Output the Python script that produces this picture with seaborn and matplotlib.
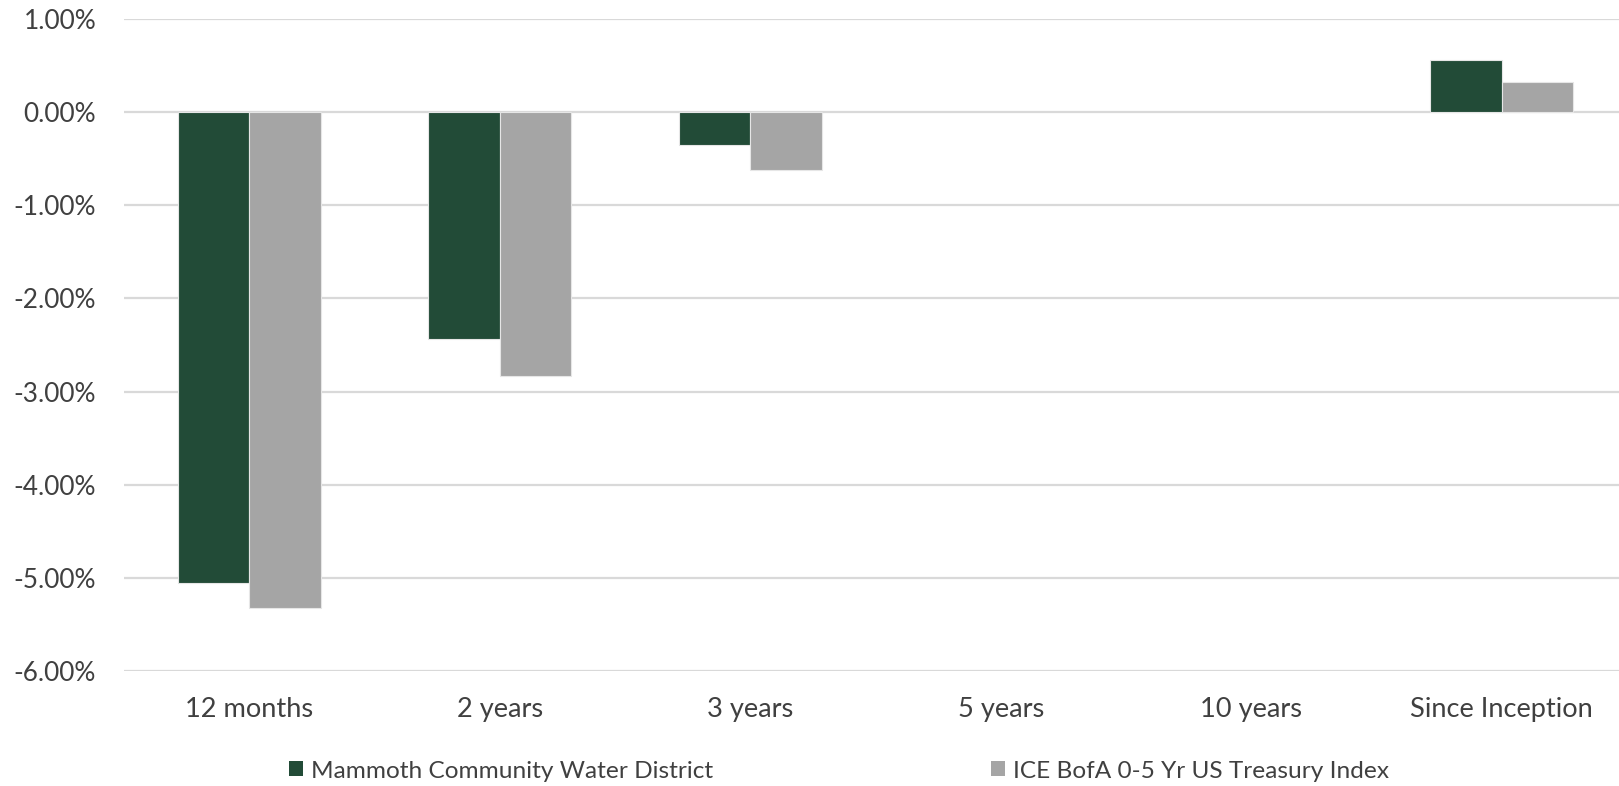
import numpy as np
import pandas as pd
import matplotlib
matplotlib.use("Agg")
import matplotlib.pyplot as plt
from matplotlib.patches import Patch
from matplotlib.ticker import FuncFormatter, MultipleLocator
import seaborn as sns

# Annualized returns (%) by period
periods = ["12 months", "2 years", "3 years", "5 years", "10 years", "Since Inception"]
district_returns = [-5.06, -2.44, -0.35, np.nan, np.nan, 0.56]
index_returns = [-5.33, -2.83, -0.62, np.nan, np.nan, 0.33]
series_names = ["Mammoth Community Water District", "ICE BofA 0-5 Yr US Treasury Index"]
series_colors = ["#224B37", "#A5A5A5"]

df = pd.DataFrame({
    "period": periods * 2,
    "return": district_returns + index_returns,
    "series": [series_names[0]] * len(periods) + [series_names[1]] * len(periods),
})

sns.set_theme(style="white")
plt.rcParams["font.family"] = ["Lato", "DejaVu Sans"]
text_color = "#404040"

W, H = 1619, 786
fig = plt.figure(figsize=(W / 100, H / 100), dpi=100)
ax = fig.add_axes([124 / W, 1 - 670.7 / H, (1627 - 124) / W, (670.7 - 19.3) / H])

sns.barplot(
    data=df, x="period", y="return", hue="series", order=periods,
    hue_order=series_names, palette=series_colors, width=0.572,
    saturation=1, edgecolor="#e6e6e6", linewidth=0.8, ax=ax, legend=False,
)

ax.set_ylim(-6, 1)
ax.set_xlim(-0.5, len(periods) - 0.5)
ax.yaxis.set_major_locator(MultipleLocator(1))
ax.yaxis.set_major_formatter(FuncFormatter(lambda v, _: f"{v:.2f}%"))
ax.grid(axis="y", color="#d9d9d9", linewidth=1.6, zorder=0)
ax.set_axisbelow(True)
for s in ax.spines.values():
    s.set_visible(False)
ax.set_xlabel("")
ax.set_ylabel("")
ax.tick_params(axis="y", length=0, pad=20, labelsize=18.9, labelcolor=text_color)
ax.tick_params(axis="x", length=0, pad=19, labelsize=19.6, labelcolor=text_color)

# Legend entries placed along the bottom
legend_x = [289 / W, 990.7 / W]
fs = 17.6
for name, color, lx in zip(series_names, series_colors, legend_x):
    leg = fig.legend(
        handles=[Patch(facecolor=color, edgecolor="none", label=name)],
        loc="center left", bbox_to_anchor=(lx, 1 - 771 / H), frameon=False,
        fontsize=fs, borderpad=0, borderaxespad=0, handlelength=0.58,
        handleheight=0.58, handletextpad=0.33,
    )
    for t in leg.get_texts():
        t.set_color(text_color)

fig.savefig("out.png", dpi=100)
